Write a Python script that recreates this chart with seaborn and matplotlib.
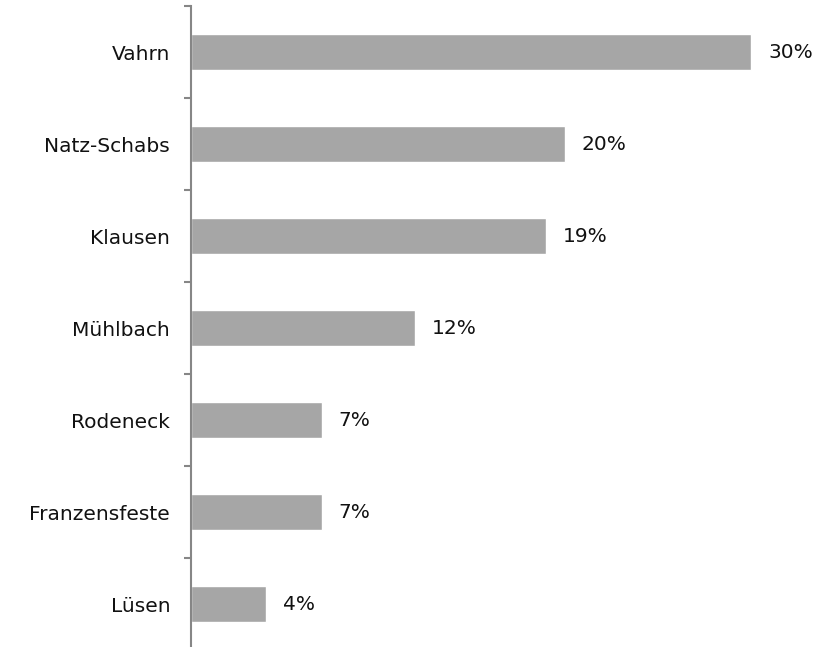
import matplotlib
matplotlib.use("Agg")
import matplotlib.pyplot as plt
from matplotlib.ticker import FixedLocator
import seaborn as sns
import pandas as pd

municipalities = ["Vahrn", "Natz-Schabs", "Klausen", "Mühlbach", "Rodeneck", "Franzensfeste", "Lüsen"]
shares = [30, 20, 19, 12, 7, 7, 4]
share_labels = ["30%", "20%", "19%", "12%", "7%", "7%", "4%"]

df = pd.DataFrame({"Gemeinde": municipalities, "Anteil": shares})

sns.set_style("white")
plt.rcParams["font.family"] = ["DejaVu Sans"]

fig = plt.figure(figsize=(8.28, 6.47), dpi=100)
ax = fig.add_axes([191 / 828, 1 - 650 / 647, 635 / 828, 644 / 647])

sns.barplot(data=df, x="Anteil", y="Gemeinde", orient="h", color="#a6a6a6",
            saturation=1, width=0.4, ax=ax)

# percentage labels to the right of each bar
for bar, text in zip(ax.patches, share_labels):
    ax.annotate(text, (bar.get_width(), bar.get_y() + bar.get_height() / 2),
                xytext=(17, 0), textcoords="offset pixels",
                ha="left", va="center", fontsize=14.5, color="#111111")

ax.set_xlim(0, 34)
ax.set_ylim(len(municipalities) - 0.5, -0.5)
ax.set_xlabel("")
ax.set_ylabel("")
ax.set_xticks([])

for side in ("top", "right", "bottom"):
    ax.spines[side].set_visible(False)
ax.spines["left"].set_color("#868686")
ax.spines["left"].set_linewidth(1.5)

# tick marks sit between the categories
ax.yaxis.set_minor_locator(FixedLocator([i - 0.5 for i in range(len(municipalities) + 1)]))
ax.tick_params(axis="y", which="major", length=0, pad=15, labelsize=14.5, labelcolor="#111111")
ax.tick_params(axis="y", which="minor", length=5, width=1.5, color="#868686", direction="out", left=True)

fig.savefig("out.png", dpi=100)
